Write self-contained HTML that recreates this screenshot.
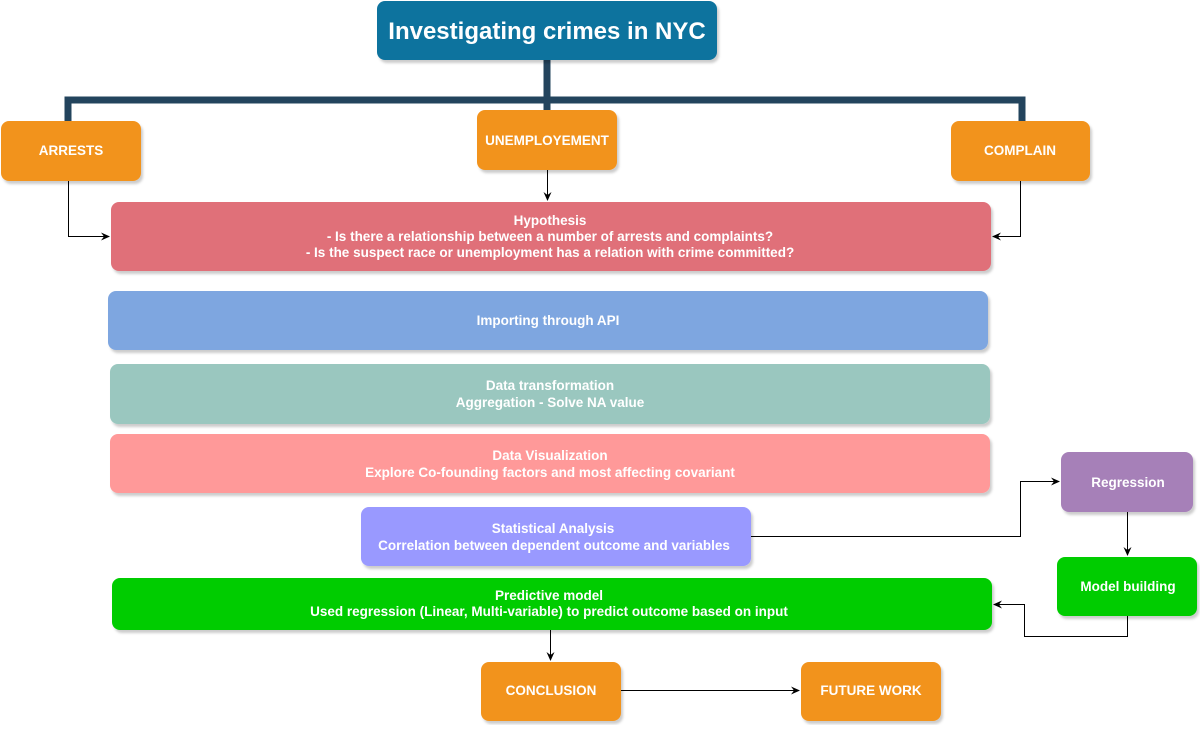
<!DOCTYPE html>
<html><head><meta charset="utf-8"><style>
body{margin:0;background:#fff;}
svg text{font-family:"Liberation Sans",Arial,sans-serif;font-weight:bold;fill:#fff;text-anchor:middle;}
</style></head><body>
<svg width="1200" height="725" xmlns="http://www.w3.org/2000/svg">
<defs>
<filter id="sh" x="-5%" y="-10%" width="110%" height="130%"><feDropShadow dx="2" dy="3" stdDeviation="1.2" flood-color="#000" flood-opacity="0.2"/></filter>
<marker id="ar" markerWidth="10" markerHeight="10" refX="8" refY="5" orient="auto" markerUnits="userSpaceOnUse"><path d="M0,1 L9,5 L0,9 L3,5 Z" fill="#000"/></marker>
</defs>
<g fill="none" stroke="#23445D" stroke-width="7">
<path d="M547,58 V110"/>
<path d="M68,122 V100 H1022 V122"/>
</g>
<g filter="url(#sh)">
<rect x="377" y="1" width="340" height="59" rx="8" fill="#10739E"/>
<rect x="1" y="121" width="140" height="60" rx="8" fill="#F2931E"/>
<rect x="477" y="110" width="140" height="60" rx="8" fill="#F2931E"/>
<rect x="951" y="121" width="139" height="60" rx="8" fill="#F2931E"/>
<rect x="111" y="202" width="880" height="69" rx="8" fill="#E07079"/>
<rect x="108" y="291" width="880" height="59" rx="8" fill="#7EA6E0"/>
<rect x="110" y="364" width="880" height="60" rx="8" fill="#9AC7BF"/>
<rect x="110" y="434" width="880" height="59" rx="8" fill="#FF9999"/>
<rect x="361" y="507" width="390" height="59" rx="8" fill="#9999FF"/>
<rect x="1061" y="452" width="132" height="60" rx="8" fill="#A680B8"/>
<rect x="1057" y="557" width="140" height="59" rx="8" fill="#00CC00"/>
<rect x="112" y="578" width="880" height="52" rx="8" fill="#00CC00"/>
<rect x="481" y="662" width="140" height="59" rx="8" fill="#F2931E"/>
<rect x="801" y="662" width="140" height="59" rx="8" fill="#F2931E"/>
</g>
<g fill="none" stroke="#000" stroke-width="1" marker-end="url(#ar)">
<path d="M68.5,181 V236.5 H109"/>
<path d="M547.5,170 V200"/>
<path d="M1020.5,181 V236.5 H993"/>
<path d="M751,536.5 H1020.5 V481.5 H1059"/>
<path d="M1127.5,512 V555"/>
<path d="M1127.5,616 V636.5 H1024.5 V604.5 H994"/>
<path d="M550.5,630 V660"/>
<path d="M621,690.5 H799"/>
</g>
<text x="547" y="39" font-size="24">Investigating crimes in NYC</text>
<text x="71" y="155" font-size="13.5">ARRESTS</text>
<text x="547" y="145" font-size="13.5">UNEMPLOYEMENT</text>
<text x="1020" y="155" font-size="13.5">COMPLAIN</text>
<text x="550" y="225" font-size="13.5">Hypothesis</text>
<text x="550" y="241" font-size="13.5">- Is there a relationship between a number of arrests and complaints?</text>
<text x="550" y="257" font-size="13.5">- Is the suspect race or unemployment has a relation with crime committed?</text>
<text x="548" y="325" font-size="13.5">Importing through API</text>
<text x="550" y="390" font-size="13.5">Data transformation</text>
<text x="550" y="407" font-size="13.5">Aggregation - Solve NA value</text>
<text x="550" y="460" font-size="13.5">Data Visualization</text>
<text x="550" y="477" font-size="13.5">Explore Co-founding factors and most affecting covariant</text>
<text x="553" y="533" font-size="13.5">Statistical Analysis</text>
<text x="554" y="550" font-size="13.5">Correlation between dependent outcome and variables</text>
<text x="1128" y="487" font-size="13.5">Regression</text>
<text x="1128" y="591" font-size="13.5">Model building</text>
<text x="549" y="600" font-size="13.5">Predictive model</text>
<text x="549" y="616" font-size="13.5">Used regression (Linear, Multi-variable) to predict outcome based on input</text>
<text x="551" y="695" font-size="13.5">CONCLUSION</text>
<text x="871" y="695" font-size="13.5">FUTURE WORK</text>
</svg>
</body></html>
